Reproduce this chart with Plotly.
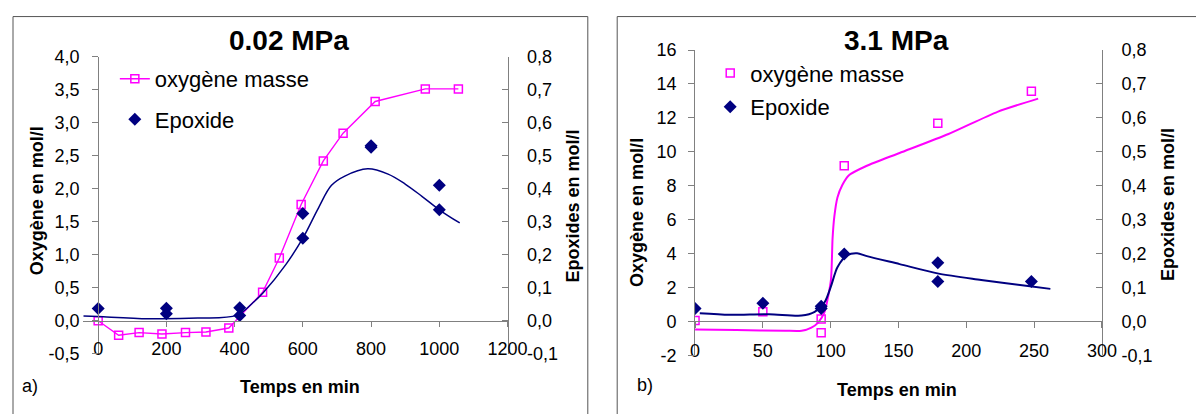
import plotly.graph_objects as go

W, H = 1204, 414
OFF = 8  # page body margin offset of the rendered figure

# ---------------- data: panel a) 0.02 MPa ----------------
a_oxy_t = [0, 60, 120, 187, 256, 316, 383, 482, 531, 595, 660, 718, 812, 959, 1056]
a_oxy = [0.0, -0.22, -0.18, -0.20, -0.18, -0.17, -0.11, 0.43, 0.95, 1.76, 2.42, 2.84, 3.32, 3.51, 3.51]

a_epo_t = [0, 200, 200, 415, 415, 600, 600, 800, 800, 1000, 1000]
a_epo = [0.037, 0.038, 0.021, 0.039, 0.016, 0.325, 0.25, 0.525, 0.53, 0.41, 0.336]

a_fit_t = [-43, 0, 148, 292, 407, 455, 483, 550, 600, 646, 684, 723, 790, 850, 900, 950, 1000, 1060]
a_fit = [0.0146, 0.0127, 0.006, 0.008, 0.017, 0.056, 0.084, 0.17, 0.25, 0.342, 0.41, 0.438, 0.46, 0.444, 0.414, 0.376, 0.336, 0.296]

# ---------------- data: panel b) 3.1 MPa ----------------
b_oxy_t = [0, 50, 93, 93, 110, 179, 248]
b_oxy = [0.05, 0.57, 0.15, -0.66, 9.18, 11.68, 13.57]

b_oxy_fit_t = [0, 30.5, 66.6, 78.6, 85.8, 90.6, 95.5, 100.2, 101.4, 102.7, 105, 108.7, 113.5, 126.7, 150.8, 186.9, 223, 253]
b_oxy_fit = [-0.47, -0.51, -0.55, -0.55, -0.36, -0.08, 0.57, 2.45, 4.88, 6.18, 7.31, 8.06, 8.62, 9.18, 9.93, 11.05, 12.36, 13.14]

b_epo_t = [0, 50, 93, 93, 110, 179, 179, 248]
b_epo = [0.038, 0.054, 0.045, 0.038, 0.199, 0.173, 0.118, 0.118]

b_epo_fit_t = [3.5, 25.6, 54.5, 78.6, 88.2, 95.5, 100.2, 105, 112.3, 119.5, 126.7, 150.8, 179.6, 211, 247, 262]
b_epo_fit = [0.024, 0.0195, 0.0215, 0.0175, 0.0285, 0.0565, 0.1035, 0.16, 0.1955, 0.201, 0.1925, 0.169, 0.141, 0.1225, 0.1035, 0.096]

# ---------------- tick labels ----------------
a_y_vals = [-0.5, 0, 0.5, 1.0, 1.5, 2.0, 2.5, 3.0, 3.5, 4.0]
a_y_text = ["-0,5", "0,0", "0,5", "1,0", "1,5", "2,0", "2,5", "3,0", "3,5", "4,0"]
y2_vals = [-0.1, 0, 0.1, 0.2, 0.3, 0.4, 0.5, 0.6, 0.7, 0.8]
y2_text = ["-0,1", "0,0", "0,1", "0,2", "0,3", "0,4", "0,5", "0,6", "0,7", "0,8"]
a_x_vals = [0, 200, 400, 600, 800, 1000, 1200]
b_y_vals = [-2, 0, 2, 4, 6, 8, 10, 12, 14, 16]
b_y_text = ["-2", "0", "2", "4", "6", "8", "10", "12", "14", "16"]
b_x_vals = [0, 50, 100, 150, 200, 250, 300]

PINK = "#FF00FF"
NAVY = "#000080"
GRAY = "#808080"
FONT = "Arial, Liberation Sans, sans-serif"

def px(x):
    return (x - OFF) / W

def py(y):
    return (H - (y - OFF)) / H

fig = go.Figure()

# panel a
fig.add_trace(go.Scatter(x=a_oxy_t, y=a_oxy, xaxis="x", yaxis="y", mode="lines+markers",
                         name="oxygène masse", legend="legend", legendgroup="a1",
                         line=dict(color=PINK, width=1.4),
                         marker=dict(symbol="square-open", size=8, color=PINK, line=dict(width=1.5, color=PINK))))
fig.add_trace(go.Scatter(x=a_fit_t, y=a_fit, xaxis="x", yaxis="y2", mode="lines", showlegend=False,
                         line=dict(color=NAVY, width=1.5, shape="spline", smoothing=1.0), hoverinfo="skip"))
fig.add_trace(go.Scatter(x=a_epo_t, y=a_epo, xaxis="x", yaxis="y2", mode="markers",
                         name="Epoxide", legend="legend", legendgroup="a2",
                         marker=dict(symbol="diamond", size=10, color=NAVY)))

# panel b
fig.add_trace(go.Scatter(x=b_oxy_fit_t, y=b_oxy_fit, xaxis="x2", yaxis="y3", mode="lines", showlegend=False,
                         line=dict(color=PINK, width=2, shape="spline", smoothing=0.6), hoverinfo="skip"))
fig.add_trace(go.Scatter(x=b_oxy_t, y=b_oxy, xaxis="x2", yaxis="y3", mode="markers",
                         name="oxygène masse", legend="legend2", legendgroup="b1",
                         marker=dict(symbol="square-open", size=8, color=PINK, line=dict(width=1.5, color=PINK))))
fig.add_trace(go.Scatter(x=b_epo_fit_t, y=b_epo_fit, xaxis="x2", yaxis="y4", mode="lines", showlegend=False,
                         line=dict(color=NAVY, width=2, shape="spline", smoothing=0.8), hoverinfo="skip"))
fig.add_trace(go.Scatter(x=b_epo_t, y=b_epo, xaxis="x2", yaxis="y4", mode="markers",
                         name="Epoxide", legend="legend2", legendgroup="b2",
                         marker=dict(symbol="diamond", size=10, color=NAVY)))

tickfont = dict(family=FONT, size=18, color="black")
common = dict(showgrid=False, zeroline=False, showline=True, linecolor=GRAY, linewidth=1,
              tickcolor=GRAY, tickfont=tickfont, fixedrange=True)

# geometry (target pixels in the reference)
a_x0, a_x1 = 79.3, 513.0      # x range -45..1200
a_yaxis_px = 95.0
a_ytop, a_ybot = 48.5, 360.8
a_yzero = 326.1
b_x0, b_x1 = 704.5, 1120.0
b_ytop, b_ybot = 41.7, 362.5
b_yzero = 326.9

fig.update_layout(
    width=W, height=H, autosize=False,
    margin=dict(l=0, r=0, t=0, b=0),
    paper_bgcolor="white", plot_bgcolor="rgba(0,0,0,0)",
    font=dict(family=FONT, color="black"),
    showlegend=True,
    xaxis=dict(domain=[px(a_x0), px(a_x1)], range=[-45, 1200], anchor="free", position=py(a_yzero),
               tickmode="array", tickvals=a_x_vals, ticks="outside", ticklen=5,
               ticklabelstandoff=7, **common),
    yaxis=dict(domain=[py(a_ybot), py(a_ytop)], range=[-0.5, 4.0], anchor="free", position=px(a_yaxis_px),
               tickmode="array", tickvals=a_y_vals, ticktext=a_y_text, ticks="outside", ticklen=6,
               ticklabelstandoff=9, **common),
    yaxis2=dict(overlaying="y", side="right", anchor="x", range=[-0.1, 0.8],
                tickmode="array", tickvals=y2_vals, ticktext=y2_text, ticks="inside", ticklen=6,
                ticklabelstandoff=15, **common),
    xaxis2=dict(domain=[px(b_x0), px(b_x1)], range=[0, 300], anchor="free", position=py(b_yzero),
                tickmode="array", tickvals=b_x_vals, ticks="outside", ticklen=6,
                ticklabelstandoff=7, **common),
    yaxis3=dict(domain=[py(b_ybot), py(b_ytop)], range=[-2, 16], anchor="x2",
                tickmode="array", tickvals=b_y_vals, ticktext=b_y_text, ticks="outside", ticklen=6,
                ticklabelstandoff=8, **common),
    yaxis4=dict(overlaying="y3", side="right", anchor="x2", range=[-0.1, 0.8],
                tickmode="array", tickvals=y2_vals, ticktext=y2_text, ticks="inside", ticklen=6,
                ticklabelstandoff=15, **common),
    legend=dict(x=px(112), y=py(50), xanchor="left", yanchor="top", bgcolor="rgba(0,0,0,0)",
                font=dict(family=FONT, size=22, color="black"), traceorder="grouped", tracegroupgap=9,
                borderwidth=0),
    legend2=dict(x=px(720), y=py(44), xanchor="left", yanchor="top", bgcolor="rgba(0,0,0,0)",
                 font=dict(family=FONT, size=22, color="black"), traceorder="grouped", tracegroupgap=2,
                 borderwidth=0),
)

# panel frames
for x0, x1 in [(8, 595), (625, 1260)]:
    fig.add_shape(type="rect", xref="paper", yref="paper", x0=px(x0), x1=px(x1), y0=-0.2, y1=py(6.5),
                  line=dict(color="#555555", width=1), fillcolor="rgba(0,0,0,0)", layer="below")

def ann(text, x, y, size, bold=False, angle=0):
    fig.add_annotation(text=f"<b>{text}</b>" if bold else text, x=px(x), y=py(y), xref="paper", yref="paper",
                       xanchor="center", yanchor="middle", showarrow=False, textangle=angle,
                       font=dict(family=FONT, size=size, color="black"))

ann("0.02 MPa", 290, 32, 28, bold=True)
ann("3.1 MPa", 910, 32, 28, bold=True)
ann("Temps en min", 301, 396, 18, bold=True)
ann("Temps en min", 911, 399, 18, bold=True)
ann("Oxygène en mol/l", 32, 200, 18, bold=True, angle=-90)
ann("Epoxides en mol/l", 580, 206, 18, bold=True, angle=-90)
ann("Oxygène en mol/l", 645, 212, 18, bold=True, angle=-90)
ann("Epoxides en mol/l", 1187, 204, 18, bold=True, angle=-90)
ann("a)", 25, 395, 18)
ann("b)", 653, 394, 18)

fig.write_html("out.html")
